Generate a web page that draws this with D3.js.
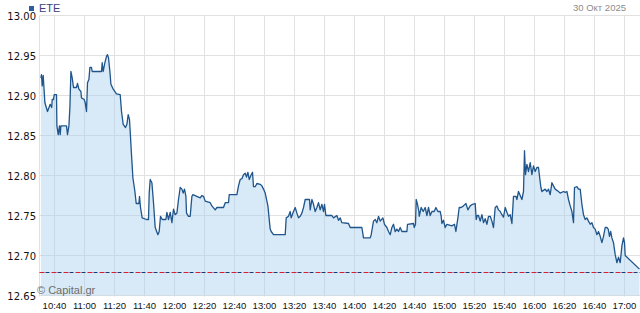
<!DOCTYPE html>
<html>
<head>
<meta charset="utf-8">
<script src="https://cdn.jsdelivr.net/npm/d3@7"></script>
<style>
  body { margin: 0; background: #fff; }
  svg { display: block; }
</style>
</head>
<body>
<svg id="svg" width="640" height="313"></svg>
<script>
// ticker / labels
const symbol = 'ETE';
const dateLabel = '30 Окт 2025';
const credit = '© Capital.gr';
const prevClose = 12.68;

// axis ticks
const yTicks = [12.65, 12.70, 12.75, 12.80, 12.85, 12.90, 12.95, 13.00];
const xTicks = ['10:40','11:00','11:20','11:40','12:00','12:20','12:40','13:00','13:20','13:40',
  '14:00','14:20','14:40','15:00','15:20','15:40','16:00','16:20','16:40','17:00'];

// intraday trades (time, price)
const times = [
  '10:30:56','10:31:20','10:31:48','10:32:28','10:33:36','10:35:20','10:37:08','10:38:08','10:38:28','10:39:20',
  '10:39:48','10:41:20','10:41:36','10:42:28','10:43:20','10:43:48','10:44:16','10:48:00','10:48:40','10:49:36',
  '10:50:16','10:50:56','10:51:48','10:52:40','10:54:40','10:55:20','10:56:16','10:57:36','10:58:00','10:59:48',
  '11:00:28','11:01:20','11:02:00','11:02:56','11:03:36','11:04:40','11:05:08','11:11:20','11:11:48','11:12:28',
  '11:13:36','11:14:40','11:15:20','11:16:00','11:16:56','11:17:36','11:19:08','11:21:20','11:23:48','11:24:40',
  '11:25:48','11:27:20','11:28:16','11:29:08','11:30:00','11:30:28','11:31:20','11:32:16','11:33:36','11:34:28',
  '11:36:16','11:36:40','11:37:20','11:38:28','11:41:20','11:42:40','11:43:08','11:43:48','11:44:56','11:46:00',
  '11:47:08','11:48:56','11:49:48','11:50:40','11:51:48','11:54:16','11:54:56','11:56:00','11:57:08','11:58:16',
  '11:59:20','12:00:28','12:01:36','12:02:40','12:03:48','12:04:56','12:05:48','12:06:40','12:07:36','12:08:00',
  '12:09:20','12:10:28','12:11:36','12:12:16','12:17:08','12:18:16','12:19:20','12:20:28','12:23:48','12:24:56',
  '12:27:08','12:28:16','12:32:40','12:33:48','12:36:00','12:36:28','12:41:36','12:42:40','12:43:48','12:44:56',
  '12:46:00','12:47:08','12:48:00','12:48:56','12:49:48','12:51:08','12:52:00','12:52:40','12:53:48','12:54:56',
  '12:57:08','12:58:16','12:59:20','13:00:28','13:02:16','13:03:48','13:04:28','13:06:00','13:13:48','13:14:28',
  '13:16:00','13:17:08','13:17:48','13:18:56','13:20:28','13:21:36','13:22:40','13:23:48','13:24:56','13:26:00',
  '13:27:08','13:30:00','13:30:28','13:31:36','13:32:40','13:33:48','13:34:56','13:36:00','13:37:08','13:38:16',
  '13:39:20','13:40:00','13:40:56','13:44:56','13:46:00','13:48:16','13:49:20','13:50:28','13:51:36','13:56:00',
  '13:57:08','14:04:56','14:06:00','14:10:28','14:11:08','14:12:40','14:13:48','14:14:56','14:16:00','14:17:08',
  '14:18:56','14:20:00','14:21:36','14:22:40','14:23:48','14:24:56','14:26:00','14:27:08','14:28:16','14:29:20',
  '14:30:28','14:31:36','14:34:56','14:35:20','14:39:20','14:39:48','14:40:40','14:41:08','14:42:00','14:42:56',
  '14:43:08','14:44:28','14:45:48','14:47:08','14:48:16','14:49:20','14:50:28','14:51:36','14:53:08','14:54:16',
  '14:55:36','14:57:08','14:57:48','14:58:16','14:59:20','15:00:28','15:01:36','15:04:56','15:06:40','15:07:36',
  '15:08:16','15:08:56','15:09:48','15:11:08','15:12:40','15:14:16','15:15:36','15:17:08','15:18:40','15:20:28',
  '15:21:08','15:21:48','15:22:40','15:23:48','15:24:56','15:26:00','15:27:08','15:28:16','15:29:20','15:30:28',
  '15:31:36','15:32:40','15:33:48','15:34:56','15:36:00','15:37:08','15:38:16','15:39:20','15:40:28','15:41:36',
  '15:42:40','15:43:48','15:44:56','15:46:00','15:47:36','15:48:16','15:49:20','15:50:28','15:51:36','15:52:40',
  '15:53:20','15:54:00','15:54:56','15:56:00','15:57:08','15:58:16','15:59:20','16:00:28','16:01:36','16:02:40',
  '16:03:20','16:04:16','16:04:56','16:07:08','16:08:16','16:09:20','16:10:28','16:11:36','16:12:40','16:13:48',
  '16:16:00','16:17:08','16:19:20','16:20:28','16:21:36','16:22:40','16:23:48','16:24:56','16:26:00','16:26:40',
  '16:28:16','16:29:20','16:30:28','16:31:36','16:32:40','16:33:48','16:34:56','16:36:00','16:37:08','16:38:16',
  '16:39:20','16:40:28','16:41:36','16:42:40','16:43:48','16:44:56','16:46:00','16:47:08','16:48:16','16:49:08',
  '16:50:00','16:50:48','16:51:36','16:52:40','16:53:48','16:54:56','16:56:00','16:57:08','16:58:16','16:59:20',
  '17:00:00','17:00:28','17:10:00'
];
const prices = [
  12.922,12.926,12.912,12.925,12.891,12.880,12.889,12.885,12.895,12.895,
  12.901,12.901,12.862,12.851,12.862,12.851,12.862,12.862,12.851,12.862,
  12.885,12.930,12.922,12.910,12.910,12.915,12.908,12.905,12.897,12.895,
  12.891,12.880,12.916,12.920,12.935,12.935,12.930,12.930,12.941,12.930,
  12.941,12.949,12.951,12.947,12.930,12.914,12.908,12.902,12.901,12.880,
  12.864,12.860,12.864,12.876,12.870,12.855,12.826,12.797,12.780,12.765,
  12.765,12.774,12.760,12.747,12.745,12.745,12.778,12.795,12.791,12.766,
  12.735,12.726,12.730,12.749,12.745,12.745,12.754,12.745,12.754,12.741,
  12.758,12.751,12.753,12.770,12.785,12.783,12.778,12.783,12.774,12.753,
  12.749,12.749,12.774,12.776,12.772,12.775,12.774,12.768,12.766,12.762,
  12.757,12.760,12.760,12.766,12.766,12.776,12.776,12.787,12.795,12.796,
  12.801,12.803,12.798,12.804,12.795,12.801,12.804,12.786,12.786,12.790,
  12.789,12.787,12.783,12.778,12.762,12.733,12.730,12.726,12.726,12.747,
  12.749,12.755,12.747,12.753,12.760,12.753,12.747,12.749,12.753,12.760,
  12.770,12.770,12.757,12.770,12.764,12.755,12.760,12.766,12.757,12.764,
  12.755,12.764,12.750,12.750,12.747,12.750,12.744,12.747,12.741,12.740,
  12.735,12.735,12.722,12.722,12.726,12.743,12.745,12.741,12.749,12.743,
  12.747,12.739,12.735,12.730,12.726,12.735,12.739,12.730,12.733,12.730,
  12.735,12.730,12.730,12.739,12.740,12.735,12.739,12.770,12.764,12.755,
  12.749,12.760,12.755,12.760,12.750,12.760,12.750,12.755,12.755,12.760,
  12.755,12.755,12.749,12.740,12.744,12.735,12.739,12.737,12.739,12.730,
  12.739,12.747,12.760,12.760,12.762,12.765,12.757,12.762,12.764,12.765,
  12.745,12.750,12.750,12.743,12.751,12.741,12.746,12.739,12.749,12.749,
  12.743,12.735,12.760,12.762,12.757,12.755,12.751,12.748,12.760,12.754,
  12.749,12.751,12.740,12.774,12.774,12.770,12.780,12.775,12.770,12.780,
  12.831,12.801,12.814,12.805,12.816,12.801,12.812,12.805,12.810,12.810,
  12.799,12.785,12.780,12.783,12.780,12.783,12.776,12.791,12.787,12.783,
  12.780,12.778,12.780,12.779,12.780,12.770,12.762,12.755,12.741,12.785,
  12.786,12.783,12.783,12.764,12.751,12.745,12.747,12.743,12.739,12.741,
  12.735,12.733,12.726,12.730,12.724,12.716,12.724,12.735,12.735,12.733,
  12.724,12.730,12.722,12.716,12.701,12.691,12.698,12.691,12.712,12.722,
  12.716,12.700,12.683
];

const parse = d3.timeParse('%H:%M:%S');
const parseHM = d3.timeParse('%H:%M');
const data = times.map((t, i) => ({ t: parse(t), p: prices[i] }));

const svg = d3.select('#svg');
const x = d3.scaleTime().domain([parse('10:30:00'), parse('17:10:00')]).range([39.5, 639.5]);
const y = d3.scaleLinear().domain([12.65, 13.00]).range([295.5, 15.5]);

// grid
const grid = svg.append('g').attr('stroke', '#e1e1e1').attr('stroke-width', 1);
grid.selectAll('line.h').data(yTicks).join('line')
  .attr('x1', 39.5).attr('x2', 640)
  .attr('y1', d => y(d)).attr('y2', d => y(d));
grid.selectAll('line.v').data([parse('10:30:00')].concat(xTicks.map(parseHM))).join('line')
  .attr('x1', d => x(d)).attr('x2', d => x(d))
  .attr('y1', y(13.00)).attr('y2', y(12.65) + 1);

// area + line
const area = d3.area().x(d => x(d.t)).y0(y(12.65)).y1(d => y(d.p));
const line = d3.line().x(d => x(d.t)).y(d => y(d.p));
svg.append('path').datum(data).attr('d', area)
  .attr('fill', '#a9cfee').attr('fill-opacity', 0.45);
svg.append('path').datum(data).attr('d', line)
  .attr('fill', 'none').attr('stroke', '#1f558a').attr('stroke-width', 1.3)
  .attr('stroke-linejoin', 'round');

// previous close, red/blue dash-dot
const yc = Math.round(y(prevClose)) + 0.5;
svg.append('line').attr('x1', 39.5).attr('x2', 640).attr('y1', yc).attr('y2', yc)
  .attr('stroke', '#d42030').attr('stroke-dasharray', '5,7');
svg.append('line').attr('x1', 39.5).attr('x2', 640).attr('y1', yc).attr('y2', yc)
  .attr('stroke', '#1d3a78').attr('stroke-dasharray', '0,6,4,2');

// y labels
svg.append('g').selectAll('text').data(yTicks).join('text')
  .attr('x', 36).attr('y', d => y(d) + 4)
  .attr('text-anchor', 'end')
  .attr('font-family', 'DejaVu Sans, sans-serif').attr('font-size', 10)
  .attr('fill', '#111')
  .text(d => d3.format('.2f')(d));

// x labels
svg.append('g').selectAll('text').data(xTicks).join('text')
  .attr('x', d => x(parseHM(d))).attr('y', 309)
  .attr('text-anchor', 'middle')
  .attr('font-family', 'Liberation Sans, Arial, sans-serif').attr('font-size', 9.5)
  .attr('fill', '#111')
  .text(d => d);

// header
svg.append('rect').attr('x', 29).attr('y', 6).attr('width', 5).attr('height', 5).attr('fill', '#2f5d9b');
svg.append('text').attr('x', 39).attr('y', 12)
  .attr('font-family', 'Liberation Sans, Arial, sans-serif').attr('font-size', 11)
  .attr('fill', '#3d3f7d').text(symbol);
svg.append('text').attr('x', 626).attr('y', 11).attr('text-anchor', 'end')
  .attr('font-family', 'Liberation Sans, Arial, sans-serif').attr('font-size', 9.5)
  .attr('fill', '#8c8c8c').text(dateLabel);

// credit
svg.append('text').attr('x', 37).attr('y', 294)
  .attr('font-family', 'Liberation Sans, Arial, sans-serif').attr('font-size', 11)
  .attr('fill', '#6e6e6e').text(credit);
</script>
</body>
</html>
